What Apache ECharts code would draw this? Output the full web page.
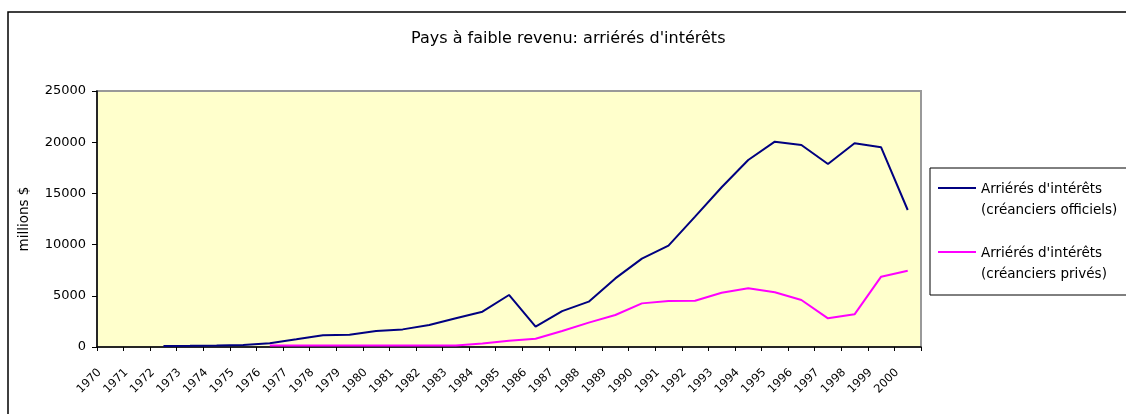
<!DOCTYPE html>
<html>
<head>
<meta charset="utf-8">
<title>Pays à faible revenu: arriérés d'intérêts</title>
<script src="https://cdn.jsdelivr.net/npm/echarts@6/dist/echarts.min.js"></script>
<style>
  html, body { margin: 0; padding: 0; background: #fff; }
  #main { width: 1126px; height: 414px; }
</style>
</head>
<body>
<div id="main"></div>
<script>
// années 1970 - 2000
var years = ['1970', '1971', '1972', '1973', '1974', '1975', '1976', '1977', '1978', '1979',
  '1980', '1981', '1982', '1983', '1984', '1985', '1986', '1987', '1988', '1989',
  '1990', '1991', '1992', '1993', '1994', '1995', '1996', '1997', '1998', '1999', '2000'];

// arriérés d'intérêts, créanciers officiels (millions $)
var officiels = [null, null, 100, 120, 150, 200, 360, 750, 1150, 1200,
  1560, 1720, 2150, 2800, 3450, 5080, 1980, 3500, 4430, 6700,
  8630, 9900, 12730, 15600, 18260, 20050, 19730, 17870, 19890, 19500, 13380];

// arriérés d'intérêts, créanciers privés (millions $)
var prives = [null, null, null, null, null, null, 150, 150, 150, 150,
  150, 150, 150, 150, 350, 620, 810, 1560, 2380, 3125,
  4260, 4490, 4520, 5300, 5730, 5340, 4590, 2800, 3190, 6870, 7450];

var yTicks = [0, 5000, 10000, 15000, 20000, 25000];

var font = 'DejaVu Sans';
var chart = echarts.init(document.getElementById('main'));

// icone de légende : trait en haut, points invisibles pour caler la hauteur
var legendIcon = 'path://M0,8 L38,8 L38,10 L0,10 Z M0,0 L0.01,0 L0,0.01 Z M37.99,42 L38,42 L38,41.99 Z';

chart.setOption({
  animation: false,
  backgroundColor: '#fff',
  textStyle: { fontFamily: font, color: '#000' },
  title: {
    text: "Pays à faible revenu: arriérés d'intérêts",
    left: 406,
    top: 26,
    textStyle: { fontFamily: font, fontSize: 16, fontWeight: 'normal', color: '#000' }
  },
  // cadre extérieur du graphique
  graphic: [{
    type: 'rect',
    shape: { x: 8, y: 12, width: 1200, height: 500 },
    style: { fill: 'none', stroke: '#000', lineWidth: 1.5 },
    silent: true
  }],
  grid: {
    left: 97,
    right: 205,
    top: 91,
    bottom: 67,
    show: true,
    backgroundColor: '#FFFFCC',
    borderColor: '#999',
    borderWidth: 2
  },
  legend: {
    orient: 'vertical',
    left: 930,
    top: 168,
    padding: [11, 40, 10, 8],
    itemGap: 22,
    itemWidth: 38,
    itemHeight: 42,
    itemTextGap: 3,
    backgroundColor: '#fff',
    borderColor: '#000',
    borderWidth: 1,
    icon: legendIcon,
    textStyle: { fontFamily: font, fontSize: 13.5, color: '#000', lineHeight: 21 },
    data: ["Arriérés d'intérêts\n(créanciers officiels)", "Arriérés d'intérêts\n(créanciers privés)"]
  },
  xAxis: {
    type: 'category',
    data: years,
    boundaryGap: true,
    axisLine: { lineStyle: { color: '#000', width: 1.5 } },
    axisTick: { show: true, length: 4, lineStyle: { color: '#000' } },
    axisLabel: {
      interval: 0,
      rotate: 45,
      fontFamily: font,
      fontSize: 11.5,
      color: '#000',
      margin: 13,
      padding: [0, 15, 0, 0]
    },
    splitLine: { show: false }
  },
  yAxis: {
    type: 'value',
    min: yTicks[0],
    max: yTicks[yTicks.length - 1],
    interval: 5000,
    name: 'millions $',
    nameLocation: 'middle',
    nameGap: 66,
    nameRotate: 90,
    nameTextStyle: { fontFamily: font, fontSize: 13.5, color: '#000' },
    axisLine: { show: true, lineStyle: { color: '#000', width: 1.5 } },
    axisTick: { show: true, length: 5, lineStyle: { color: '#000' } },
    axisLabel: {
      fontFamily: font,
      fontSize: 13,
      color: '#000',
      margin: 11,
      formatter: function (v) { return String(v); }
    },
    splitLine: { show: false }
  },
  series: [{
    name: "Arriérés d'intérêts\n(créanciers officiels)",
    type: 'line',
    data: officiels,
    symbol: 'none',
    connectNulls: false,
    itemStyle: { color: '#000080' },
    lineStyle: { color: '#000080', width: 2 }
  }, {
    name: "Arriérés d'intérêts\n(créanciers privés)",
    type: 'line',
    data: prives,
    symbol: 'none',
    connectNulls: false,
    itemStyle: { color: '#FF00FF' },
    lineStyle: { color: '#FF00FF', width: 2 }
  }]
});
</script>
</body>
</html>
